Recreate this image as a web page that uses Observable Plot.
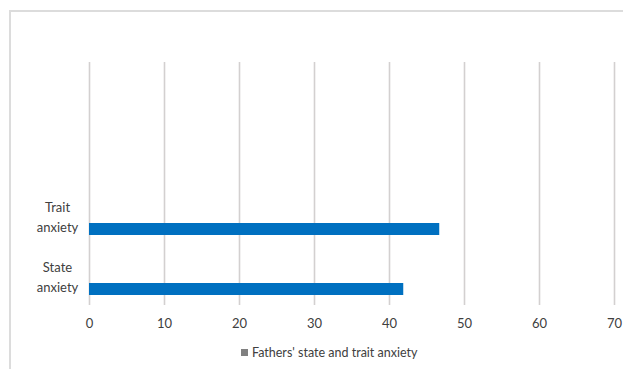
<!DOCTYPE html>
<html>
<head>
<meta charset="utf-8">
<script src="https://cdn.jsdelivr.net/npm/d3@7"></script>
<script src="https://cdn.jsdelivr.net/npm/@observablehq/plot@0.6"></script>
<style>
  html, body { margin: 0; padding: 0; background: #fff; overflow: hidden; }
  body { width: 623px; height: 369px; position: relative; font-family: Lato, "Open Sans", sans-serif; }
  #frame { position: absolute; left: 9px; top: 10px; width: 700px; height: 400px;
           border-left: 2px solid #dcdcdc; border-top: 2px solid #dcdcdc; }
  #chart { position: absolute; left: 0; top: 0; }
  #legend { position: absolute; left: 241px; top: 345px; font-size: 12.5px; color: #404040;
            display: flex; align-items: center; white-space: nowrap; }
  #legend .swatch { width: 7px; height: 7px; background: #808080; margin-right: 4px; }
</style>
</head>
<body>
<div id="frame"></div>
<div id="chart"></div>
<div id="legend"><span class="swatch"></span><span id="legend-label"></span></div>
<script>
// Mean anxiety scores of fathers
const categories = ["Trait anxiety", "State anxiety"];
const values = [46.7, 41.9];
const xTicks = [0, 10, 20, 30, 40, 50, 60, 70];
const seriesName = "Fathers' state and trait anxiety";

const data = categories.map((category, i) => ({category, value: values[i]}));

const width = 623, height = 340;
const marginTop = 62, marginBottom = 35, marginLeft = 89, marginRight = 9;
// the two categories occupy the lower half of the plotting area
const step = (height - marginTop - marginBottom) / 4;

const chart = Plot.plot({
  width, height, marginTop, marginBottom, marginLeft, marginRight,
  style: {fontFamily: "Lato, 'Open Sans', sans-serif", color: "#404040", background: "transparent"},
  x: {domain: [0, 70]},
  y: {domain: categories, range: [height - marginBottom - 2 * step, height - marginBottom], padding: 0, axis: null},
  marks: [
    Plot.ruleX(xTicks, {stroke: "#d3d0d0", strokeWidth: 1.6}),
    Plot.barX(data, {x: "value", y: "category", fill: "#0070c0", insetTop: 39, insetBottom: 9}),
    Plot.axisX({ticks: xTicks, tickSize: 0, tickPadding: 13, fontSize: 13, fill: "#404040", label: null}),
    Plot.text(categories, {
      y: d => d, text: d => d.replace(" ", "\n"), frameAnchor: "left", dx: -32, dy: 1,
      textAnchor: "middle", lineHeight: 1.55, fontSize: 13, fill: "#404040"
    })
  ]
});
document.getElementById("chart").appendChild(chart);
document.getElementById("legend-label").textContent = seriesName;
</script>
</body>
</html>
